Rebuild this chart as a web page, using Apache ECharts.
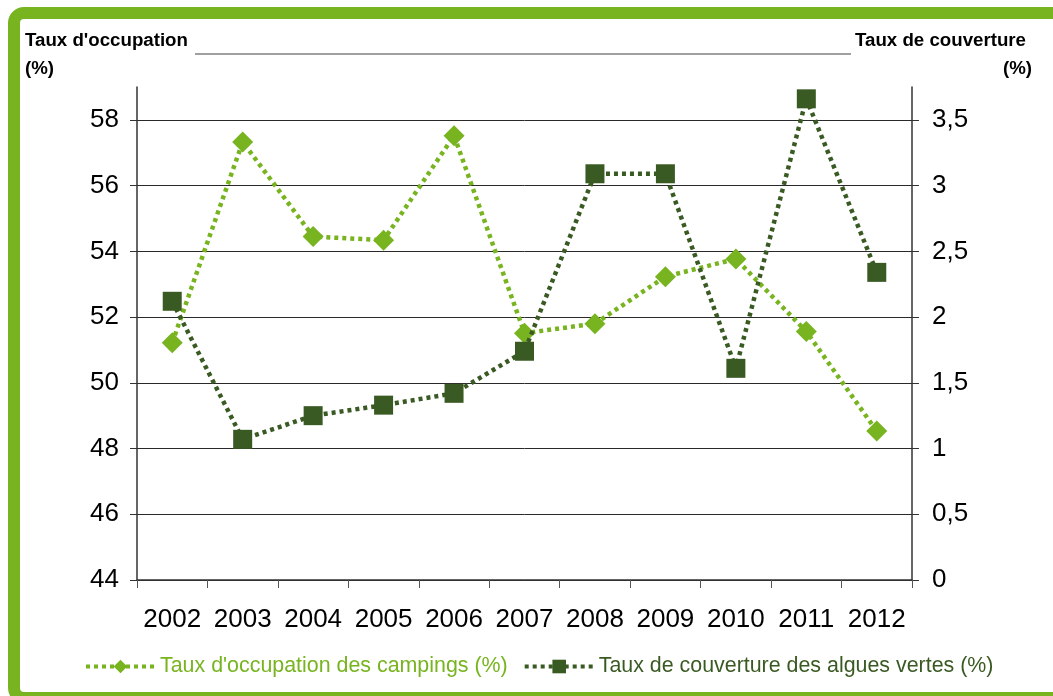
<!DOCTYPE html>
<html>
<head>
<meta charset="utf-8">
<script src="https://cdn.jsdelivr.net/npm/echarts@6/dist/echarts.min.js"></script>
<style>
html,body{margin:0;padding:0;background:#fff;}
#c{width:1053px;height:696px;}
</style>
</head>
<body>
<div id="c"></div>
<script>
const years = ['2002','2003','2004','2005','2006','2007','2008','2009','2010','2011','2012'];
const occupation = [51.22, 57.33, 54.45, 54.34, 57.52, 51.51, 51.8, 53.23, 53.77, 51.56, 48.53];
const couverture = [2.12, 1.07, 1.25, 1.33, 1.42, 1.74, 3.09, 3.09, 1.61, 3.66, 2.34];
const leftTicks = [44, 46, 48, 50, 52, 54, 56, 58];
const rightTicks = [0, 0.5, 1, 1.5, 2, 2.5, 3, 3.5];
const seriesNames = ["Taux d'occupation des campings (%)", "Taux de couverture des algues vertes (%)"];

const LIGHT = '#77b41f';
const DARK = '#3a5a23';
const FONT = 'Liberation Sans, Arial, sans-serif';
const TFONT = 'bold 18.7px Liberation Sans, Arial, sans-serif';

const chart = echarts.init(document.getElementById('c'), null, {renderer: 'canvas'});
chart.setOption({
  animation: false,
  backgroundColor: '#fff',
  textStyle: {fontFamily: FONT},
  graphic: [
    {type: 'rect', shape: {x: 14, y: 13, width: 1060, height: 685, r: 10},
     style: {fill: 'none', stroke: LIGHT, lineWidth: 12}, z: 100},
    {type: 'text', left: 25, top: 31, style: {text: "Taux d'occupation", font: TFONT, fill: '#000'}},
    {type: 'text', left: 25, top: 59, style: {text: '(%)', font: TFONT, fill: '#000'}},
    {type: 'text', right: 27, top: 31, style: {text: 'Taux de couverture', font: TFONT, fill: '#000', align: 'right'}},
    {type: 'text', right: 21, top: 59, style: {text: '(%)', font: TFONT, fill: '#000', align: 'right'}},
    {type: 'line', shape: {x1: 195, y1: 54, x2: 851, y2: 54}, style: {stroke: '#808080', lineWidth: 1.5}}
  ],
  legend: {
    left: 79, top: 651,
    itemWidth: 69, itemHeight: 17, itemGap: 15,
    lineStyle: {width: 4},
    data: [
      {name: seriesNames[0], textStyle: {color: LIGHT}},
      {name: seriesNames[1], textStyle: {color: DARK}}
    ],
    textStyle: {fontSize: 21.4, fontFamily: FONT}
  },
  grid: {left: 137, right: 141, top: 87, bottom: 116, containLabel: false},
  xAxis: {
    type: 'category', data: years, boundaryGap: true,
    axisLine: {lineStyle: {color: '#333', width: 1.5}},
    axisTick: {show: true, interval: 0, length: 8, inside: false, lineStyle: {color: '#555', width: 1}},
    axisLabel: {interval: 0, color: '#000', fontSize: 26, margin: 27, fontFamily: FONT}
  },
  yAxis: [
    {
      type: 'value', min: 44, max: 59, interval: 2, position: 'left',
      axisLine: {show: true, lineStyle: {color: '#333', width: 1.5}},
      axisTick: {show: true, length: 7, customValues: leftTicks, lineStyle: {color: '#333'}},
      axisLabel: {color: '#000', fontSize: 26, margin: 18, customValues: leftTicks, fontFamily: FONT},
      splitLine: {show: true, lineStyle: {color: ['#2a2a2a','#2a2a2a','#2a2a2a','#2a2a2a','#2a2a2a','#2a2a2a','#2a2a2a','#2a2a2a','rgba(0,0,0,0)'], width: 1}}
    },
    {
      type: 'value', min: 0, max: 3.75, interval: 0.5, position: 'right',
      axisLine: {show: true, lineStyle: {color: '#333', width: 1.5}},
      axisTick: {show: true, length: 7, customValues: rightTicks, lineStyle: {color: '#333'}},
      axisLabel: {color: '#000', fontSize: 26, margin: 20, customValues: rightTicks, fontFamily: FONT,
        formatter: v => String(v).replace('.', ',')},
      splitLine: {show: false}
    }
  ],
  series: [
    {
      name: seriesNames[0], type: 'line', yAxisIndex: 0, data: occupation,
      symbol: 'diamond', symbolSize: 21,
      itemStyle: {color: LIGHT},
      lineStyle: {color: LIGHT, width: 4.5, type: [4, 4]},
      z: 2
    },
    {
      name: seriesNames[1], type: 'line', yAxisIndex: 1, data: couverture,
      symbol: 'rect', symbolSize: 19,
      itemStyle: {color: DARK},
      lineStyle: {color: DARK, width: 4.5, type: [4, 4]},
      z: 3
    }
  ]
});
</script>
</body>
</html>
